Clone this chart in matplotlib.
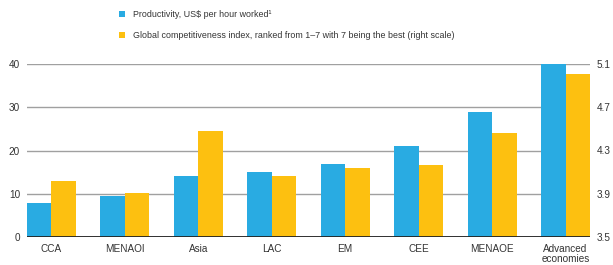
import matplotlib.pyplot as plt
import numpy as np

plt.rcParams['font.family'] = ['Liberation Sans', 'DejaVu Sans']

regions = ["CCA", "MENAOI", "Asia", "LAC", "EM", "CEE", "MENAOE", "Advanced\neconomies"]
productivity = [7.9, 9.5, 14.1, 15.0, 16.8, 21.0, 28.8, 40.0]
gci = [4.02, 3.91, 4.48, 4.06, 4.14, 4.17, 4.46, 5.01]
left_ticks = [0, 10, 20, 30, 40]
right_ticks = [3.5, 3.9, 4.3, 4.7, 5.1]
gci_base = 3.5

blue = "#29abe2"
yellow = "#fdc010"
txt = "#333333"

fig = plt.figure(figsize=(6.13, 2.65), dpi=100)
ax = fig.add_axes([27 / 613, 1 - 237 / 265, (590 - 27) / 613, (237 - 64) / 265])
ax2 = ax.twinx()

x = np.arange(len(regions))
w = 1 / 3
ax.bar(x - w / 2, productivity, width=w, color=blue, zorder=3, clip_on=False,
       label="Productivity, US$ per hour worked\u00b9")
ax2.bar(x + w / 2, np.array(gci) - gci_base, bottom=gci_base, width=w, color=yellow,
        zorder=3, clip_on=False,
        label="Global competitiveness index, ranked from 1\u20137 with 7 being the best (right scale)")

ax.set_xlim(-w, len(regions) - 1 + w)
ax.set_ylim(0, 40)
ax.set_yticks(left_ticks)
ax2.set_ylim(3.5, 5.1)
ax2.set_yticks(right_ticks)
ax2.set_yticklabels([f"{t:.1f}" for t in right_ticks])

ax.set_xticks(x)
ax.set_xticklabels(regions, linespacing=0.95)

ax.grid(axis="y", color="#a0a0a0", lw=1.0, zorder=0)
ax.set_axisbelow(True)
for a in (ax, ax2):
    for s in a.spines.values():
        s.set_visible(False)
    a.tick_params(length=0, labelsize=7.2, labelcolor=txt)
ax.tick_params(axis="y", pad=5)
ax2.tick_params(axis="y", pad=5)
ax.tick_params(axis="x", pad=5)
ax2.axhline(gci_base, color="#222222", lw=1.3, zorder=4)

h1, l1 = ax.get_legend_handles_labels()
h2, l2 = ax2.get_legend_handles_labels()
fig.legend(h1 + h2, l1 + l2, loc="upper left", bbox_to_anchor=(111 / 613, 0.993),
           frameon=False, fontsize=6.4, handlelength=0.7, handleheight=0.7,
           handletextpad=0.85, labelspacing=1.4, labelcolor=txt)

fig.savefig("out.png", dpi=100)
